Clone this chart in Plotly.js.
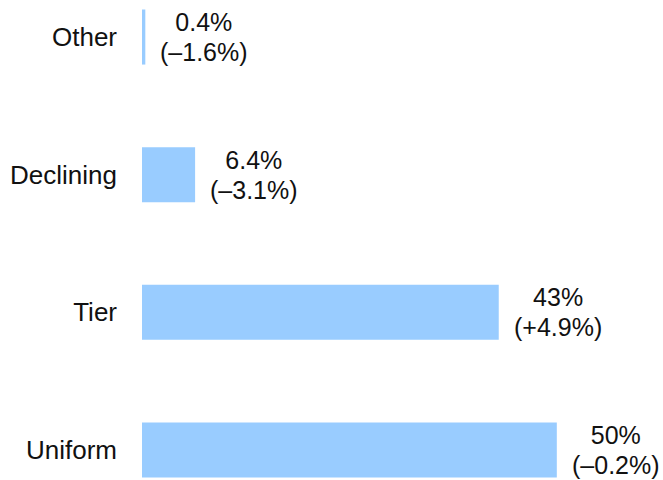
<!DOCTYPE html>
<html><head><meta charset="utf-8">
<script src="https://cdn.plot.ly/plotly-3.0.1.min.js"></script>
<style>html,body{margin:0;padding:0;background:#fff}#chart{width:663px;height:480px}</style>
</head><body><div id="chart"></div>
<script>
const categories = ["Uniform", "Tier", "Declining", "Other"];
const shares = [50, 43, 6.4, 0.4];
const shareLabels = ["50%", "43%", "6.4%", "0.4%"];
const changeLabels = ["(\u20130.2%)", "(+4.9%)", "(\u20133.1%)", "(\u20131.6%)"];

const fontFam = '"Liberation Sans", Arial, sans-serif';
const trace = {
  type: 'bar', orientation: 'h',
  x: shares, y: categories,
  width: 0.4,
  marker: {color: '#99ccff'},
  hoverinfo: 'skip'
};
const big = s => '<span style="font-size:25px">' + s + '</span>';
const annotations = categories.map((c, i) => ({
  x: shares[i], y: c, xref: 'x', yref: 'y',
  xanchor: 'left', yanchor: 'middle', xshift: 13, align: 'center',
  showarrow: false,
  text: big(shareLabels[i]) + '<br>' + big(changeLabels[i]),
  font: {family: fontFam, size: 23, color: '#111'}
}));
const layout = {
  width: 663, height: 480,
  margin: {l: 142, r: 0, t: 0, b: 0},
  paper_bgcolor: '#fff', plot_bgcolor: '#fff',
  showlegend: false,
  xaxis: {visible: false, range: [0, 62.8], fixedrange: true},
  yaxis: {type: 'category', categoryorder: 'array', categoryarray: categories,
          range: [-0.218, 3.269], showgrid: false, zeroline: false, showline: false,
          ticks: '', ticklabelstandoff: 24,
          tickfont: {family: fontFam, size: 26, color: '#111'}},
  annotations: annotations
};
Plotly.newPlot('chart', [trace], layout, {displayModeBar: false, staticPlot: true});
</script></body></html>
